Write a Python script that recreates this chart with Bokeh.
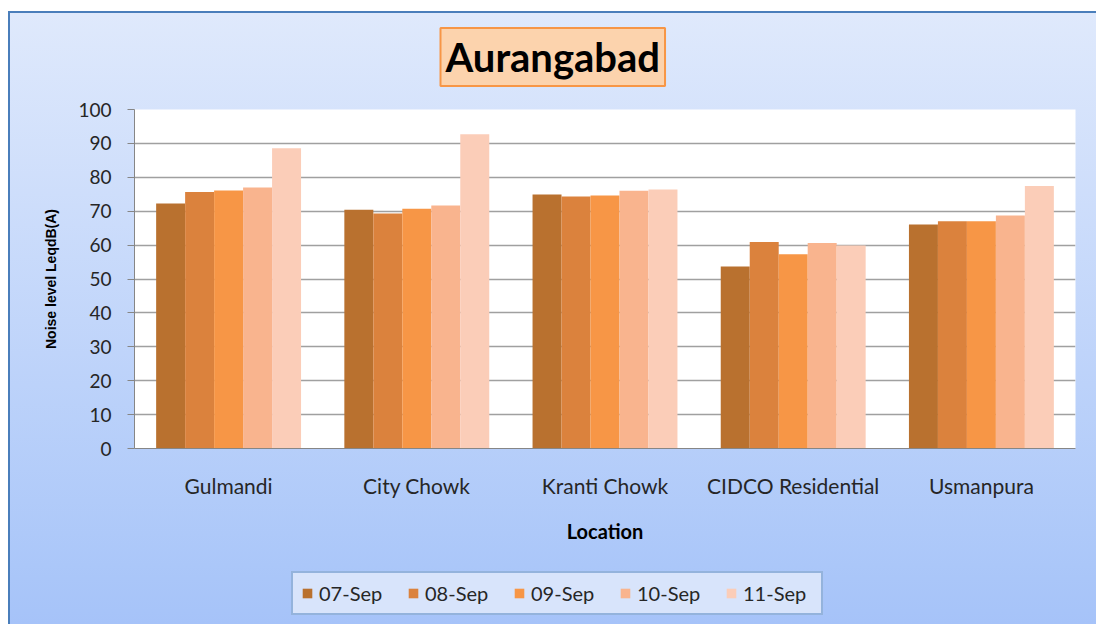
from bokeh.plotting import figure
from bokeh.layouts import column
from bokeh.models import ColumnDataSource, FactorRange, Range1d, SingleIntervalTicker
from bokeh.transform import dodge
from bokeh.embed import file_html
from bokeh.resources import INLINE

locations = ["Gulmandi", "City Chowk", "Kranti Chowk", "CIDCO Residential", "Usmanpura"]
dates = ["07-Sep", "08-Sep", "09-Sep", "10-Sep", "11-Sep"]
sep07 = [72.3, 70.4, 74.9, 53.7, 66.1]
sep08 = [75.7, 69.3, 74.3, 60.9, 67.0]
sep09 = [76.1, 70.7, 74.6, 57.3, 67.0]
sep10 = [77.0, 71.7, 76.0, 60.6, 68.7]
sep11 = [88.6, 92.7, 76.4, 59.9, 77.4]
series = [sep07, sep08, sep09, sep10, sep11]
colors = ["#b9712f", "#db823d", "#f79646", "#f9b48e", "#fbcdb8"]

source = ColumnDataSource(dict(location=locations, **{d: v for d, v in zip(dates, series)}))

p = figure(x_range=FactorRange(factors=locations, range_padding=0),
           y_range=Range1d(0, 100),
           width=1096, height=565,
           min_border_left=134, min_border_right=21, min_border_top=109, min_border_bottom=117,
           output_backend="svg", toolbar_location=None)

p.styles = {
    "background": "linear-gradient(to right, #ffffff 0px, #ffffff 8px, #4a7ebb 8px, #4a7ebb 10px, transparent 10px) 0px 11px no-repeat, "
                  "linear-gradient(to bottom, #ffffff 0px, #ffffff 11px, #4a7ebb 11px, #4a7ebb 13px, #dfe9fc 13px, #abc7f9 100%)"
}
p.border_fill_color = None
p.background_fill_color = "white"
p.outline_line_color = None

bw = 0.154
offsets = [-2 * bw, -bw, 0, bw, 2 * bw]
for d, c, off in zip(dates, colors, offsets):
    p.vbar(x=dodge("location", off, range=p.x_range), top=d, width=bw, source=source,
           fill_color=c, line_color=None)

# title
p.title.text = "Aurangabad"
p.title.align = "left"
p.title.offset = 306
p.title.text_font = "Lato"
p.title.text_font_style = "bold"
p.title.text_font_size = "40px"
p.title.text_color = "#000000"
p.title.background_fill_color = "#fcd3ad"
p.title.border_line_color = "#f79646"
p.title.border_line_width = 2
p.title.padding = 5
p.title.standoff = 47

# axes
p.yaxis.ticker = SingleIntervalTicker(interval=10)
p.yaxis.minor_tick_line_color = None
p.yaxis.major_tick_out = 7
p.yaxis.major_tick_in = 0
p.yaxis.axis_line_color = "#868686"
p.yaxis.major_tick_line_color = "#868686"
p.yaxis.major_label_text_font = "Lato"
p.yaxis.major_label_text_font_size = "19px"
p.yaxis.major_label_text_color = "#262626"
p.yaxis.major_label_standoff = 16
p.yaxis.axis_label = "Noise level LeqdB(A)"
p.yaxis.axis_label_text_font = "Liberation Sans"
p.yaxis.axis_label_text_font_style = "bold"
p.yaxis.axis_label_text_font_size = "14px"
p.yaxis.axis_label_text_color = "#000000"
p.yaxis.axis_label_standoff = 16

p.xaxis.major_tick_out = 0
p.xaxis.major_tick_in = 0
p.xaxis.axis_line_color = "#868686"
p.xaxis.major_label_text_font = "Lato"
p.xaxis.major_label_text_font_size = "21px"
p.xaxis.major_label_text_color = "#262626"
p.xaxis.major_label_standoff = 24
p.xaxis.axis_label = "Location"
p.xaxis.axis_label_text_font = "Lato"
p.xaxis.axis_label_text_font_style = "bold"
p.xaxis.axis_label_text_font_size = "20px"
p.xaxis.axis_label_text_color = "#000000"
p.xaxis.axis_label_standoff = 18

p.xgrid.grid_line_color = None
p.ygrid.grid_line_color = "#a0a0a0"
p.ygrid.grid_line_width = 1.5

# legend strip: a second figure directly below, holding only the legend
p2 = figure(x_range=FactorRange(factors=locations, range_padding=0),
            y_range=Range1d(1000, 1001),
            width=1096, height=59,
            min_border_left=0, min_border_right=0, min_border_top=0, min_border_bottom=0,
            x_axis_location=None, y_axis_location=None,
            output_backend="svg", toolbar_location=None)
p2.styles = {
    "background": "linear-gradient(to right, #ffffff 0px, #ffffff 8px, #4a7ebb 8px, #4a7ebb 10px, transparent 10px) 0px 0px no-repeat, "
                  "linear-gradient(to bottom, #abc7f9 0%, #a6c3f9 100%)"
}
p2.border_fill_color = None
p2.background_fill_color = None
p2.outline_line_color = None
p2.xgrid.visible = False
p2.ygrid.visible = False

for d, c, off in zip(dates, colors, offsets):
    p2.vbar(x=dodge("location", off, range=p2.x_range), top=d, width=bw, source=source,
            fill_color=c, line_color=None, legend_label=d)

lg = p2.legend[0]
lg.orientation = "horizontal"
lg.location = (157, 9)
lg.glyph_width = 12
lg.glyph_height = 12
lg.label_standoff = 6
lg.label_width = 70
lg.spacing = 18
lg.padding = 8
lg.margin = 0
lg.label_text_font = "Lato"
lg.label_text_font_size = "20px"
lg.label_text_color = "#262626"
lg.background_fill_color = "#d8e4fb"
lg.background_fill_alpha = 1
lg.border_line_color = "#4f81bd"
lg.border_line_width = 2

layout = column(p, p2, spacing=0)
open("out.html", "w").write(file_html(layout, INLINE))
